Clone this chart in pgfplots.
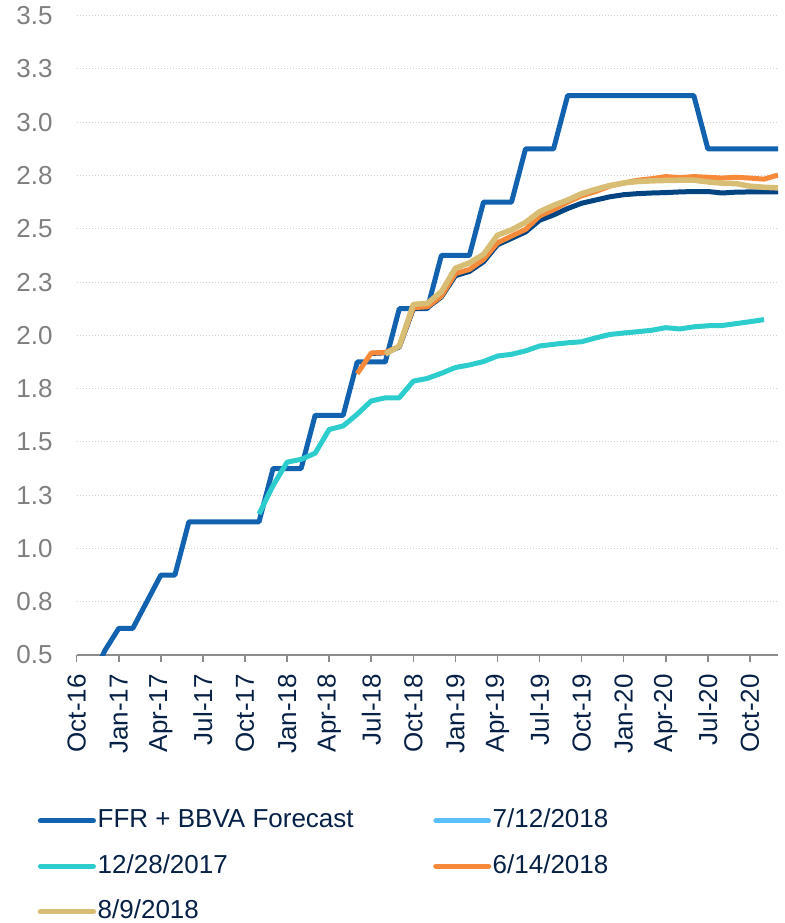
\documentclass[border=0pt]{standalone}
\usepackage{fontspec}
\setmainfont{Liberation Sans}
\usepackage{pgfplots}
\pgfplotsset{compat=1.18}
\definecolor{ffrblue}{HTML}{1262B0}
\definecolor{navyline}{HTML}{004481}
\definecolor{aqua}{HTML}{2DCCCD}
\definecolor{orangeline}{HTML}{F7893B}
\definecolor{sand}{HTML}{D8BE75}
\definecolor{lightblue}{HTML}{5BBEFF}
\definecolor{labnavy}{HTML}{072146}
\definecolor{labgray}{HTML}{7F7F7F}
\definecolor{axisgray}{HTML}{8C8C8C}
\definecolor{gridgray}{HTML}{D0D0D0}
\begin{document}
\begin{tikzpicture}
\useasboundingbox (-76.7pt,-268pt) rectangle (707.3pt,655pt);
\begin{axis}[
  at={(0pt,0pt)}, anchor=south west,
  scale only axis, width=701.3pt, height=639.3pt,
  xmin=0, xmax=50, ymin=0.5, ymax=3.5,
  xtick={0,3,6,9,12,15,18,21,24,27,30,33,36,39,42,45,48},
  xticklabels={Oct-16,Jan-17,Apr-17,Jul-17,Oct-17,Jan-18,Apr-18,Jul-18,Oct-18,Jan-19,Apr-19,Jul-19,Oct-19,Jan-20,Apr-20,Jul-20,Oct-20},
  ytick={0.5,0.75,1,1.25,1.5,1.75,2,2.25,2.5,2.75,3,3.25,3.5},
  yticklabels={0.5,0.8,1.0,1.3,1.5,1.8,2.0,2.3,2.5,2.8,3.0,3.3,3.5},
  axis x line*=bottom, axis y line*=left,
  x axis line style={draw=axisgray, line width=1.5pt, -},
  y axis line style={draw=none},
  xtick align=outside, major tick length=7pt,
  xtick style={draw=axisgray, line width=1.5pt},
  ytick style={draw=none},
  ymajorgrids,
  grid style={gridgray, line width=1pt, dash pattern=on 1.5pt off 1.5pt},
  tick label style={font=\fontsize{26}{30}\selectfont},
  x tick label style={rotate=90, anchor=east, text=labnavy, inner sep=0pt, xshift=-12pt},
  y tick label style={text=labgray, inner sep=0pt, xshift=-24pt},
  legend columns=2,
  legend cell align=left,
  legend style={draw=none, fill=none, at={(-0.0559,-0.2378)}, anchor=north west,
    font=\fontsize{26}{30}\selectfont, text=labnavy, inner sep=0pt, row sep=18.5pt,
    nodes={inner sep=1.5pt, text height=19pt, text depth=5pt}},
  legend image code/.code={\draw[#1, line cap=round] (0pt,0pt) -- (53pt,0pt);},
  every axis plot/.append style={line width=5pt, line join=round},
]
\addplot[ffrblue] coordinates {
(0,0.375) (1,0.375) (2,0.52) (3,0.625) (4,0.625) (5,0.75) (6,0.875) (7,0.875)
(8,1.125) (9,1.125) (10,1.125) (11,1.125) (12,1.125) (13,1.125)
(14,1.375) (15,1.375) (16,1.375) (17,1.625) (18,1.625) (19,1.625)
(20,1.875) (21,1.875) (22,1.875) (23,2.125) (24,2.125) (25,2.125)
(26,2.375) (27,2.375) (28,2.375) (29,2.625) (30,2.625) (31,2.625)
(32,2.875) (33,2.875) (34,2.875) (35,3.125) (36,3.125) (37,3.125) (38,3.125)
(39,3.125) (40,3.125) (41,3.125) (42,3.125) (43,3.125) (44,3.125)
(45,2.875) (46,2.875) (47,2.875) (48,2.875) (49,2.875) (50,2.875)};
\addlegendentry{\makebox[334pt][l]{FFR + BBVA Forecast}}
\addlegendimage{color=lightblue, line width=4.5pt}
\addlegendentry{7/12/2018}
\addplot[aqua] coordinates {
(13,1.162) (14,1.295) (15,1.405) (16,1.418) (17,1.447) (18,1.558) (19,1.575)
(20,1.630) (21,1.692) (22,1.707) (23,1.707) (24,1.785) (25,1.798) (26,1.822)
(27,1.849) (28,1.861) (29,1.877) (30,1.903) (31,1.911) (32,1.927) (33,1.950)
(34,1.958) (35,1.965) (36,1.970) (37,1.988) (38,2.004) (39,2.011) (40,2.017)
(41,2.024) (42,2.036) (43,2.030) (44,2.040) (45,2.045) (46,2.046) (47,2.055)
(48,2.064) (49,2.074)};
\addlegendentry{\makebox[334pt][l]{12/28/2017}}
\addplot[navyline, forget plot] coordinates {
(21,1.915) (22,1.918) (23,1.945) (24,2.125) (25,2.130) (26,2.180) (27,2.280)
(28,2.300) (29,2.345) (30,2.425) (31,2.455) (32,2.485) (33,2.540) (34,2.565)
(35,2.595) (36,2.620) (37,2.635) (38,2.650) (39,2.660) (40,2.665) (41,2.668)
(42,2.670) (43,2.673) (44,2.675) (45,2.675) (46,2.668) (47,2.672) (48,2.673)
(49,2.673) (50,2.673)};
\addplot[orangeline] coordinates {
(20,1.820) (21,1.917) (22,1.920) (23,1.948) (24,2.130) (25,2.134) (26,2.184)
(27,2.290) (28,2.309) (29,2.356) (30,2.434) (31,2.466) (32,2.497) (33,2.560)
(34,2.590) (35,2.625) (36,2.655) (37,2.675) (38,2.700) (39,2.715) (40,2.728)
(41,2.735) (42,2.745) (43,2.740) (44,2.745) (45,2.742) (46,2.738) (47,2.742)
(48,2.738) (49,2.733) (50,2.752)};
\addlegendentry{6/14/2018}
\addplot[sand, line width=5.5pt] coordinates {
(22,1.912) (23,1.950) (24,2.145) (25,2.150) (26,2.205) (27,2.315) (28,2.340)
(29,2.380) (30,2.470) (31,2.495) (32,2.530) (33,2.580) (34,2.610) (35,2.635)
(36,2.665) (37,2.685) (38,2.703) (39,2.715) (40,2.722) (41,2.725) (42,2.727)
(43,2.728) (44,2.728) (45,2.720) (46,2.714) (47,2.712) (48,2.700) (49,2.695)
(50,2.692)};
\addlegendentry{\makebox[334pt][l]{8/9/2018}}
\end{axis}
\end{tikzpicture}
\end{document}
